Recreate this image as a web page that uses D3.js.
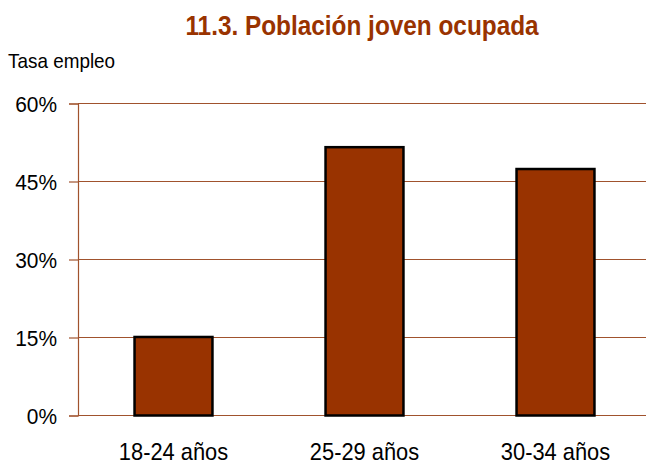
<!DOCTYPE html>
<html><head><meta charset="utf-8">
<script src="https://cdn.jsdelivr.net/npm/d3@7"></script>
<style>body{margin:0;background:#fff}</style>
</head><body>
<svg id="c" width="646" height="466"></svg>
<script>
const categories = ["18-24 años", "25-29 años", "30-34 años"];
const values = [15.1, 51.6, 47.4];
const yTicks = [0, 15, 30, 45, 60];

(function () {
const svg = d3.select("#c");
const font = "'Liberation Sans Narrow', 'Arial Narrow', 'Liberation Sans', Arial, sans-serif";
const mLeft = 78, mRight = 651, mTop = 103.5, mBottom = 415.5;

const x = d3.scaleBand().domain(categories).range([mLeft, mRight]).paddingInner(0.592).paddingOuter(0.296);
const y = d3.scaleLinear().domain([0, 60]).range([mBottom, mTop]);

svg.append("text").attr("transform", "translate(362,35) scale(0.87,1)").attr("text-anchor", "middle")
  .attr("font-family", font).attr("font-weight", "bold").attr("font-size", 28)
  .attr("fill", "#993300").text("11.3. Población joven ocupada");

svg.append("text").attr("transform", "translate(8,68) scale(0.9,1)")
  .attr("font-family", font).attr("font-size", 21).attr("fill", "#000").text("Tasa empleo");

const yAxis = svg.append("g").attr("transform", `translate(${mLeft},0)`)
  .call(d3.axisLeft(y).tickValues(yTicks).tickSize(9).tickPadding(12).tickFormat(d => d + "%"));
yAxis.select(".domain").attr("stroke", "#A0522D").attr("stroke-width", 1.2);
yAxis.selectAll(".tick line").attr("stroke", "#A0522D").attr("stroke-width", 1.2);
yAxis.selectAll(".tick text").attr("font-family", font).attr("font-size", 22.5).attr("fill", "#000")
  .attr("dy", "0.36em").attr("x", -21 / 0.93).attr("transform", "scale(0.93,1)");

svg.append("g").selectAll("line").data(yTicks).join("line")
  .attr("x1", mLeft).attr("x2", 646).attr("y1", d => y(d)).attr("y2", d => y(d))
  .attr("stroke", "#A0522D").attr("stroke-width", 1.2);

svg.append("g").selectAll("rect").data(values).join("rect")
  .attr("x", (d, i) => x(categories[i]))
  .attr("width", x.bandwidth())
  .attr("y", d => y(d))
  .attr("height", d => y(0) - y(d))
  .attr("fill", "#993300").attr("stroke", "#000").attr("stroke-width", 2.5);

const xAxis = svg.append("g").attr("transform", `translate(0,${mBottom})`)
  .call(d3.axisBottom(x).tickSize(0).tickPadding(0));
xAxis.select(".domain").remove();
xAxis.selectAll(".tick text").attr("font-family", font).attr("font-size", 24).attr("fill", "#000")
  .attr("y", 45).attr("dy", 0).attr("transform", "scale(0.91,1)");
})();
</script>
</body></html>
